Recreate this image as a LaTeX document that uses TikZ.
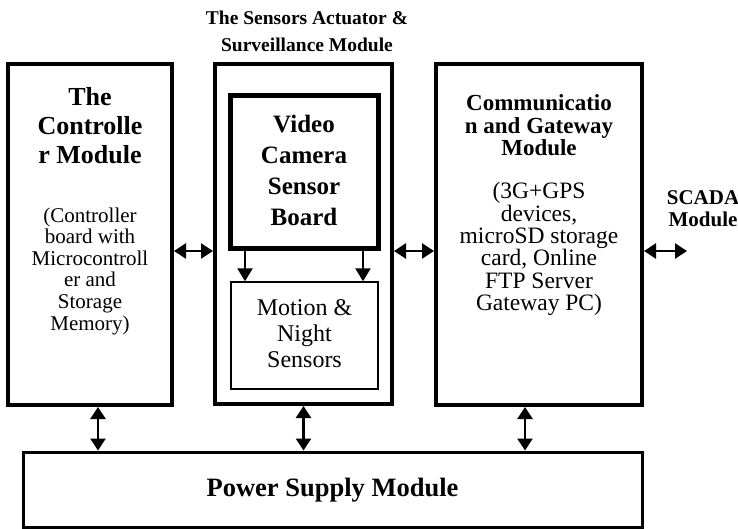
\documentclass[tikz,border=0pt]{standalone}
\usepackage{fontspec}
\setmainfont{Liberation Serif}
\usetikzlibrary{arrows.meta, positioning, calc}
\tikzset{every node/.style={font=\rmfamily}}

\begin{document}
\begin{tikzpicture}[x=1pt, y=-1pt,
    modbox/.style={draw, line width=4pt, inner sep=0pt},
    boldtxt/.style 2 args={align=center, inner sep=0pt, font=\bfseries\fontsize{#1}{#2}\selectfont},
    plaintxt/.style 2 args={align=center, inner sep=0pt, font=\fontsize{#1}{#2}\selectfont},
    biarrow/.style={{Triangle[length=12pt,width=15pt]}-{Triangle[length=12pt,width=15pt]}, line width=2.5pt},
    downarrow/.style={-{Triangle[length=13pt,width=15pt]}, line width=2.5pt}]
    \useasboundingbox (0,0) rectangle (738,528);
    % the three modules and the power supply
    \node[modbox, minimum width=164pt, minimum height=341pt] (ctrl) at (90,234.5) {};
    \node[modbox, minimum width=177pt, minimum height=340pt] (sens) at (303.5,234) {};
    \node[modbox, minimum width=206pt, minimum height=341pt] (comm) at (539,234.5) {};
    \node[draw, line width=3pt, minimum width=619pt, minimum height=75pt] (power) at (332.5,489.5) {};
    % inner boards of the sensors module
    \node[modbox, line width=5pt, minimum width=148pt, minimum height=153pt] (cam) at (304,171.5) {};
    \node[draw, line width=1.5pt, minimum width=147pt, minimum height=107pt] (motion) at (304.5,335.5) {};
    % texts
    \node[boldtxt={26}{29}] (ctrlhead) at (90,126) {The\\Controlle\\r Module};
    \node[plaintxt={21}{21.6}] (ctrlbody) at (90,271) {(Controller\\board with\\Microcontroll\\er and\\Storage\\Memory)};
    \node[boldtxt={19.5}{27}] (senshead) at (307,31.5) {The Sensors Actuator \&\\Surveillance Module};
    \node[boldtxt={25}{31}] (camtxt) at (304,170) {Video\\Camera\\Sensor\\Board};
    \node[plaintxt={24}{26}] (motiontxt) at (304.5,334) {Motion \&\\Night\\Sensors};
    \node[boldtxt={23}{22.5}] (commhead) at (539,125.5) {Communicatio\\n and Gateway\\Module};
    \node[plaintxt={23.5}{22.4}] (commbody) at (539,249) {(3G+GPS\\devices,\\microSD storage\\card, Online\\FTP Server\\Gateway PC)};
    \node[boldtxt={21}{22}] (scada) at (703,209) {SCADA\\Module};
    \node[boldtxt={26.5}{30}] (powertxt) at (332.5,490) {Power Supply Module};
    \coordinate (scadaend) at (687,251);
    % connectors
    \draw[biarrow] ([yshift=-16.5pt]ctrl.east) -- ([yshift=-16.5pt]ctrl.east -| sens.west);
    \draw[biarrow] ([yshift=-17pt]sens.east) -- ([yshift=-17pt]sens.east -| comm.west);
    \draw[biarrow] ([yshift=-16.5pt]comm.east) -- (scadaend);
    \draw[biarrow] ([xshift=8pt]ctrl.south) -- ([xshift=8pt]ctrl.south |- power.north);
    \draw[biarrow] (sens.south) -- (sens.south |- power.north);
    \draw[biarrow] ([xshift=-14pt]comm.south) -- ([xshift=-14pt]comm.south |- power.north);
    \draw[downarrow] ([xshift=-59pt]cam.south) -- ([xshift=-59pt]cam.south |- motion.north);
    \draw[downarrow] ([xshift=59pt]cam.south) -- ([xshift=59pt]cam.south |- motion.north);
  \end{tikzpicture}
\end{document}
